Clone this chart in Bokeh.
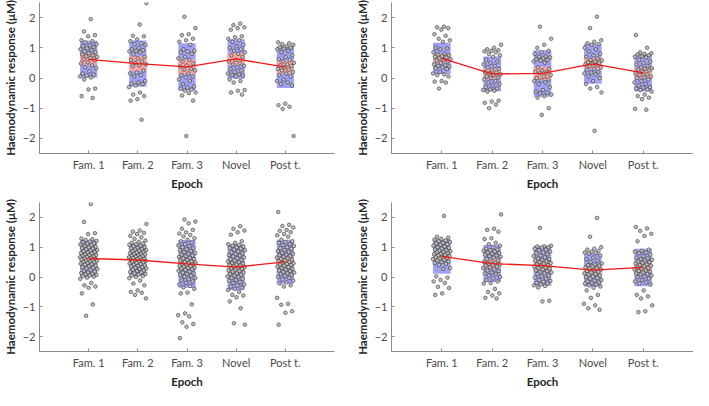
import numpy as np
from bokeh.plotting import figure
from bokeh.layouts import column, row
from bokeh.models import FixedTicker, Range1d
from bokeh.embed import file_html
from bokeh.resources import INLINE

categories = ["Fam. 1", "Fam. 2", "Fam. 3", "Novel", "Post t."]
y_ticks = [-2, -1, 0, 1, 2]

# ---------- Panel A (top-left) ----------
a_fam1 = [1.95, 1.54, 1.42, 1.38, 1.25, 1.22, 1.18, 1.12, 1.08, 1.05, 1.02, 0.98, 0.95, 0.92, 0.88, 0.85,
          0.82, 0.78, 0.75, 0.72, 0.70, 0.66, 0.62, 0.58, 0.52, 0.48, 0.42, 0.36, 0.32, 0.22, 0.15, 0.12,
          0.08, 0.05, 0.02, -0.05, -0.35, -0.38, -0.60, -0.66]
a_fam2 = [2.48, 1.77, 1.40, 1.38, 1.28, 1.22, 1.15, 1.12, 1.10, 1.0, 0.95, 0.92, 0.9, 0.88, 0.85, 0.78,
          0.7, 0.65, 0.6, 0.55, 0.5, 0.45, 0.42, 0.40, 0.25, 0.18, 0.15, 0.1, 0.05, -0.1, -0.15, -0.18,
          -0.2, -0.25, -0.3, -0.48, -0.55, -0.6, -0.7, -0.75, -1.38]
a_fam3 = [2.03, 1.65, 1.45, 1.42, 1.3, 1.25, 1.2, 1.1, 0.95, 0.9, 0.88, 0.85, 0.8, 0.7, 0.65, 0.6, 0.55,
          0.48, 0.42, 0.38, 0.3, 0.28, 0.25, 0.15, 0.1, 0.05, 0.02, -0.05, -0.1, -0.2, -0.28, -0.32,
          -0.35, -0.38, -0.42, -0.48, -0.5, -0.58, -0.75, -1.92]
a_novel = [1.8, 1.75, 1.68, 1.65, 1.6, 1.38, 1.35, 1.3, 1.25, 1.2, 1.1, 1.05, 1.0, 0.95, 0.9, 0.85, 0.8,
           0.75, 0.7, 0.6, 0.55, 0.5, 0.45, 0.4, 0.35, 0.3, 0.25, 0.2, 0.15, 0.12, 0.1, 0.08, 0.05,
           -0.05, -0.1, -0.15, -0.4, -0.42, -0.48, -0.55]
a_post = [1.18, 1.15, 1.12, 1.1, 1.05, 1.02, 1.0, 0.98, 0.95, 0.9, 0.85, 0.75, 0.7, 0.62, 0.6, 0.55, 0.5,
          0.45, 0.42, 0.4, 0.35, 0.3, 0.28, 0.25, 0.2, 0.15, 0.1, 0.05, -0.05, -0.1, -0.15, -0.2, -0.25,
          -0.85, -0.9, -0.95, -1.02, -1.92]
a_mean = [0.62, 0.475, 0.37, 0.63, 0.36]
a_sd = [0.61, 0.765, 0.78, 0.655, 0.69]
a_ci = [0.19, 0.245, 0.24, 0.20, 0.21]

# ---------- Panel B (top-right) ----------
b_fam1 = [1.7, 1.68, 1.65, 1.6, 1.45, 1.4, 1.3, 1.25, 1.2, 1.0, 0.98, 0.95, 0.85, 0.8, 0.78, 0.75, 0.72,
          0.7, 0.68, 0.65, 0.62, 0.6, 0.58, 0.55, 0.5, 0.45, 0.42, 0.4, 0.38, 0.35, 0.32, 0.3, 0.2, 0.15,
          0.12, 0.1, 0.05, -0.1, -0.12, -0.15, -0.35]
b_fam2 = [1.1, 1.0, 0.95, 0.92, 0.9, 0.88, 0.85, 0.8, 0.75, 0.7, 0.6, 0.55, 0.5, 0.45, 0.4, 0.35, 0.3,
          0.25, 0.2, 0.18, 0.15, 0.12, 0.1, 0.05, 0.02, 0.0, -0.05, -0.1, -0.15, -0.2, -0.25, -0.3,
          -0.35, -0.38, -0.4, -0.42, -0.45, -0.75, -0.78, -0.82, -0.88, -1.0]
b_fam3 = [1.7, 1.3, 1.1, 1.0, 0.9, 0.85, 0.8, 0.72, 0.7, 0.68, 0.65, 0.62, 0.6, 0.58, 0.55, 0.5, 0.35,
          0.3, 0.25, 0.2, 0.18, 0.15, 0.1, 0.05, 0.0, -0.05, -0.08, -0.1, -0.15, -0.2, -0.3, -0.4,
          -0.45, -0.48, -0.5, -0.55, -0.6, -0.65, -1.0, -1.22]
b_novel = [2.03, 1.65, 1.25, 1.2, 1.15, 1.12, 1.1, 1.0, 0.95, 0.88, 0.8, 0.75, 0.7, 0.65, 0.6, 0.58,
           0.55, 0.52, 0.5, 0.48, 0.45, 0.42, 0.4, 0.35, 0.3, 0.28, 0.2, 0.18, 0.15, 0.12, 0.05, 0.0,
           -0.1, -0.2, -0.3, -0.35, -0.48, -1.75]
b_post = [1.42, 1.0, 0.85, 0.82, 0.8, 0.78, 0.75, 0.72, 0.7, 0.68, 0.6, 0.55, 0.5, 0.45, 0.4, 0.35,
          0.32, 0.3, 0.28, 0.25, 0.2, 0.15, 0.12, 0.1, 0.05, 0.02, 0.0, -0.05, -0.1, -0.15, -0.2, -0.25,
          -0.3, -0.32, -0.35, -0.38, -0.4, -0.45, -0.55, -0.6, -0.65, -0.7, -1.02, -1.05]
b_mean = [0.65, 0.135, 0.15, 0.47, 0.17]
b_sd = [0.52, 0.575, 0.77, 0.66, 0.62]
b_ci = [0.15, 0.17, 0.22, 0.19, 0.18]

# ---------- Panel C (bottom-left) ----------
c_fam1 = [2.45, 1.85, 1.47, 1.44, 1.29, 1.27, 1.24, 1.21, 1.19, 1.16, 1.13, 1.12, 1.09, 1.06, 1.04,
          1.01, 0.99, 0.97, 0.95, 0.93, 0.9, 0.89, 0.87, 0.84, 0.82, 0.8, 0.79, 0.76, 0.74, 0.73, 0.71,
          0.69, 0.67, 0.66, 0.64, 0.62, 0.61, 0.59, 0.58, 0.56, 0.55, 0.53, 0.52, 0.5, 0.49, 0.47, 0.45,
          0.43, 0.41, 0.38, 0.36, 0.33, 0.31, 0.29, 0.27, 0.24, 0.21, 0.18, 0.15, 0.13, 0.11, 0.09,
          0.07, 0.05, 0.03, 0.01, -0.02, -0.06, -0.2, -0.28, -0.32, -0.36, -0.55, -0.92, -1.3]
c_fam2 = [1.78, 1.56, 1.52, 1.48, 1.44, 1.38, 1.33, 1.28, 1.22, 1.18, 1.15, 1.12, 1.1, 1.08, 1.05, 1.03,
          1.0, 0.98, 0.96, 0.94, 0.92, 0.9, 0.88, 0.86, 0.84, 0.82, 0.8, 0.78, 0.77, 0.75, 0.73, 0.71,
          0.7, 0.68, 0.66, 0.65, 0.63, 0.61, 0.6, 0.58, 0.57, 0.55, 0.54, 0.52, 0.51, 0.49, 0.47, 0.45,
          0.43, 0.41, 0.39, 0.37, 0.35, 0.33, 0.31, 0.29, 0.27, 0.25, 0.22, 0.2, 0.17, 0.15, 0.12, 0.1,
          0.08, 0.05, 0.03, 0.0, -0.04, -0.12, -0.22, -0.28, -0.45, -0.5, -0.53, -0.6, -0.72]
c_fam3 = [1.93, 1.86, 1.8, 1.62, 1.58, 1.5, 1.46, 1.41, 1.36, 1.3, 1.25, 1.2, 1.15, 1.1, 1.06, 1.03, 1.0,
          0.97, 0.93, 0.9, 0.87, 0.84, 0.8, 0.78, 0.75, 0.72, 0.7, 0.67, 0.64, 0.62, 0.6, 0.57, 0.55,
          0.52, 0.5, 0.48, 0.46, 0.44, 0.42, 0.4, 0.38, 0.36, 0.34, 0.32, 0.3, 0.28, 0.26, 0.24, 0.21,
          0.18, 0.15, 0.12, 0.1, 0.07, 0.04, 0.01, -0.03, -0.07, -0.1, -0.15, -0.2, -0.25, -0.3, -0.35,
          -0.4, -0.52, -0.55, -0.92, -1.22, -1.28, -1.32, -1.52, -1.58, -1.67, -2.05]
c_novel = [1.7, 1.62, 1.56, 1.5, 1.42, 1.2, 1.15, 1.1, 1.08, 1.05, 1.02, 1.0, 0.97, 0.95, 0.92, 0.9,
           0.86, 0.83, 0.8, 0.77, 0.74, 0.72, 0.69, 0.66, 0.63, 0.6, 0.57, 0.55, 0.52, 0.5, 0.47, 0.45,
           0.42, 0.4, 0.38, 0.35, 0.33, 0.31, 0.29, 0.27, 0.25, 0.22, 0.2, 0.18, 0.15, 0.12, 0.1, 0.08,
           0.05, 0.02, 0.0, -0.03, -0.06, -0.1, -0.13, -0.17, -0.2, -0.25, -0.28, -0.32, -0.36, -0.4,
           -0.44, -0.5, -0.6, -0.62, -0.68, -0.82, -1.05, -1.55, -1.6]
c_post = [2.18, 1.75, 1.71, 1.66, 1.58, 1.55, 1.5, 1.44, 1.4, 1.35, 1.25, 1.2, 1.17, 1.14, 1.1, 1.07,
          1.04, 1.0, 0.97, 0.94, 0.9, 0.87, 0.84, 0.81, 0.78, 0.75, 0.73, 0.7, 0.68, 0.65, 0.62, 0.6,
          0.58, 0.55, 0.53, 0.5, 0.48, 0.46, 0.44, 0.42, 0.4, 0.38, 0.35, 0.33, 0.3, 0.28, 0.25, 0.22,
          0.2, 0.17, 0.15, 0.12, 0.1, 0.07, 0.04, 0.01, -0.03, -0.08, -0.12, -0.18, -0.22, -0.28, -0.32,
          -0.7, -0.9, -0.93, -1.15, -1.2, -1.6]
c_mean = [0.62, 0.57, 0.44, 0.33, 0.51]
c_sd = [0.62, 0.53, 0.80, 0.77, 0.74]
c_ci = [0.12, 0.10, 0.16, 0.15, 0.15]

# ---------- Panel D (bottom-right) ----------
d_fam1 = [2.05, 1.35, 1.32, 1.28, 1.25, 1.22, 1.2, 1.17, 1.14, 1.12, 1.1, 1.08, 1.05, 1.02, 1.0, 0.98,
          0.95, 0.92, 0.9, 0.88, 0.86, 0.84, 0.82, 0.8, 0.78, 0.76, 0.74, 0.72, 0.7, 0.68, 0.66, 0.64,
          0.62, 0.6, 0.58, 0.55, 0.52, 0.5, 0.47, 0.44, 0.4, 0.3, 0.27, 0.02, -0.02, -0.1, -0.15, -0.2,
          -0.33, -0.37, -0.55, -0.6]
d_fam2 = [2.1, 1.62, 1.58, 1.52, 1.3, 1.27, 1.15, 1.1, 1.05, 1.0, 0.95, 0.92, 0.9, 0.88, 0.85, 0.82,
          0.8, 0.78, 0.75, 0.72, 0.7, 0.68, 0.65, 0.6, 0.55, 0.52, 0.5, 0.47, 0.45, 0.42, 0.4, 0.38,
          0.35, 0.32, 0.3, 0.25, 0.22, 0.2, 0.15, 0.12, 0.1, 0.05, 0.0, -0.05, -0.1, -0.15, -0.2, -0.22,
          -0.4, -0.5, -0.55, -0.62, -0.7, -0.72]
d_fam3 = [1.65, 1.05, 1.03, 1.02, 1.0, 0.98, 0.95, 0.92, 0.9, 0.85, 0.82, 0.8, 0.76, 0.72, 0.7, 0.66,
          0.62, 0.6, 0.57, 0.55, 0.52, 0.5, 0.47, 0.45, 0.42, 0.4, 0.38, 0.35, 0.32, 0.3, 0.28, 0.25,
          0.22, 0.2, 0.17, 0.15, 0.12, 0.1, 0.05, 0.02, -0.02, -0.06, -0.1, -0.13, -0.16, -0.2, -0.22,
          -0.25, -0.28, -0.3, -0.35, -0.8, -0.82]
d_novel = [1.98, 1.35, 1.0, 0.95, 0.92, 0.88, 0.85, 0.82, 0.8, 0.78, 0.72, 0.65, 0.6, 0.55, 0.5, 0.45,
           0.42, 0.4, 0.38, 0.35, 0.32, 0.3, 0.28, 0.25, 0.22, 0.2, 0.18, 0.15, 0.12, 0.1, 0.08, 0.05,
           0.02, 0.0, -0.03, -0.06, -0.1, -0.12, -0.15, -0.18, -0.2, -0.22, -0.25, -0.28, -0.32, -0.36,
           -0.45, -0.6, -0.7, -0.9, -0.95, -1.05, -1.1]
d_post = [1.68, 1.63, 1.55, 1.45, 1.38, 1.2, 0.92, 0.88, 0.85, 0.82, 0.8, 0.75, 0.7, 0.65, 0.62, 0.6,
          0.58, 0.55, 0.52, 0.5, 0.48, 0.45, 0.42, 0.4, 0.38, 0.35, 0.32, 0.3, 0.28, 0.25, 0.22, 0.2,
          0.18, 0.15, 0.12, 0.1, 0.08, 0.05, 0.02, 0.0, -0.05, -0.1, -0.15, -0.18, -0.22, -0.25, -0.45,
          -0.6, -0.65, -0.72, -0.95, -1.15, -1.18]
d_mean = [0.69, 0.45, 0.38, 0.23, 0.32]
d_sd = [0.58, 0.62, 0.67, 0.56, 0.63]
d_ci = [0.14, 0.15, 0.16, 0.14, 0.15]

FONT = "Lato"
BLUE = "#a0a0f8"
PINK = "#ffa3a3"
RED = "#f01818"
AXIS = "#8a8a8a"


def make_panel(cols, means, sds, cis, width, height, left, right, top, bottom):
    p = figure(width=width, height=height, output_backend="svg", toolbar_location=None,
               x_range=Range1d(0, 6), y_range=Range1d(-2.5, 2.5),
               min_border_left=left, min_border_right=right,
               min_border_top=top, min_border_bottom=bottom)
    pos = np.arange(1, len(categories) + 1)
    m = np.array(means)
    s = np.array(sds)
    c = np.array(cis)
    hw = 0.175
    p.quad(left=pos - hw, right=pos + hw, top=m + s, bottom=m - s,
           fill_color=BLUE, line_color=None)
    p.quad(left=pos - hw, right=pos + hw, top=m + c, bottom=m - c,
           fill_color=PINK, line_color=None)
    xs, ys = [], []
    for j, vals in enumerate(cols):
        for i, v in enumerate(vals):
            off = (((i + 1) * 0.6180339887 + j * 0.37) % 1.0 - 0.5) * 0.36
            xs.append(pos[j] + off)
            ys.append(v)
    p.scatter(xs, ys, size=3.6, fill_color="#c0c0c0", line_color="#333333", line_width=0.6)
    p.line(pos, m, line_color=RED, line_width=1.3)

    p.grid.visible = False
    p.outline_line_color = None
    p.background_fill_color = "white"
    p.border_fill_color = "white"

    p.xaxis.ticker = FixedTicker(ticks=list(pos))
    p.xaxis.major_label_overrides = {int(k): lab for k, lab in zip(pos, categories)}
    p.yaxis.ticker = FixedTicker(ticks=y_ticks)
    p.xaxis.axis_label = "Epoch"
    p.yaxis.axis_label = "Haemodynamic response (μM)"
    for ax in (p.xaxis, p.yaxis):
        ax.axis_line_color = AXIS
        ax.major_tick_line_color = AXIS
        ax.major_tick_in = 3
        ax.major_tick_out = 0
        ax.minor_tick_line_color = None
        ax.major_label_text_font = FONT
        ax.major_label_text_font_size = "11px"
        ax.major_label_text_color = "#4a4a4a"
        ax.axis_label_text_font = FONT
        ax.axis_label_text_font_style = "bold"
        ax.axis_label_text_font_size = "11.5px"
        ax.axis_label_text_color = "#262626"
        ax.major_label_standoff = 4
        ax.axis_label_standoff = 3
    return p


pA = make_panel([a_fam1, a_fam2, a_fam3, a_novel, a_post], a_mean, a_sd, a_ci,
                352, 192, 27, 18, 2, 32)
pB = make_panel([b_fam1, b_fam2, b_fam3, b_novel, b_post], b_mean, b_sd, b_ci,
                341, 192, 27, 0, 2, 32)
pC = make_panel([c_fam1, c_fam2, c_fam3, c_novel, c_post], c_mean, c_sd, c_ci,
                352, 198, 27, 18, 10, 32)
pD = make_panel([d_fam1, d_fam2, d_fam3, d_novel, d_post], d_mean, d_sd, d_ci,
                341, 198, 27, 0, 10, 32)

layout = column(row(pA, pB), row(pC, pD))
open("out.html", "w").write(file_html(layout, INLINE))
